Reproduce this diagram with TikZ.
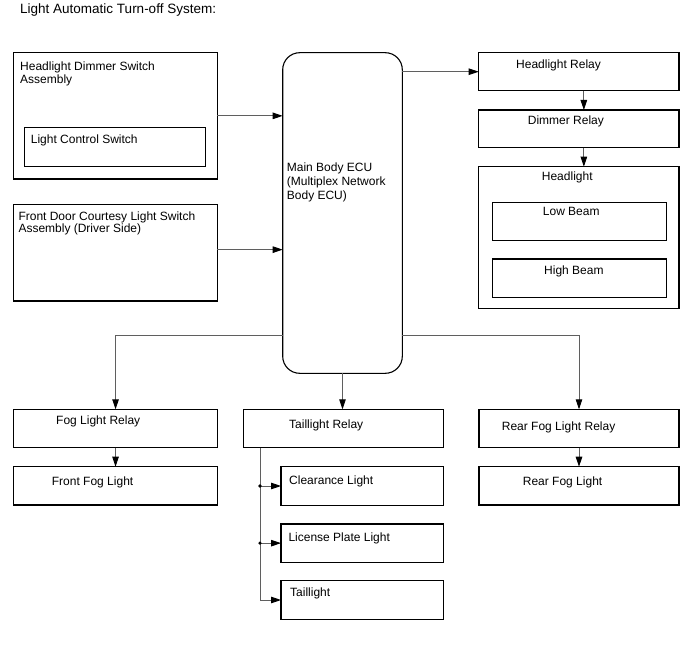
\documentclass[tikz,border=0pt]{standalone}
\usepackage{fontspec}
\setmainfont{Liberation Sans}
\usetikzlibrary{arrows.meta}
\begin{document}
\begin{tikzpicture}[x=1pt,y=-1pt,
  box/.style={draw=black,line width=1.1pt,anchor=north west,inner sep=0pt,outer sep=0pt},
  lbl/.style={anchor=base west,inner sep=0pt,align=left,font=\fontsize{12}{13}\selectfont},
  wire/.style={draw=cwire,line width=0.9pt},
  tip/.style={-{Triangle[length=10pt,width=6.5pt,color=black]}}]
  \definecolor{cwire}{RGB}{95,95,95}
  \useasboundingbox (0,0) rectangle (688,658);
  \node[anchor=base west,inner sep=0pt,font=\fontsize{13.5}{15}\selectfont] (title) at (20,14) {Light Automatic Turn-off System:};
  \foreach \nm/\xx/\yy/\ww/\hh in {hdsw/13.3/52.7/204/126.3,lcsw/24.3/127.7/181.4/39,
      fdsw/13.3/204.3/204/96.7,hrly/478.7/52.7/200.3/38,drly/478.7/110/200.3/37.7,
      hlamp/478.7/166.7/200.3/141.6,lowb/492.7/202.3/174/38.4,highb/492.7/259/174/38.7,
      fogrly/13.3/409.3/204.5/38.4,ffog/13.3/466.7/204.5/38.3,tailrly/243.3/409.3/200/38.4,
      rfogrly/479/409.3/200/38.4,rfog/479/466.7/200/38.3,clear/281/466.7/162.3/38.6,
      plate/281/524/162.3/38.3,tail/281/580.7/162.3/38.6}{%
    \node[box,minimum width=\ww,minimum height=\hh] (\nm) at (\xx,\yy) {};
  }
  \node[box,rounded corners=17pt,minimum width=119.6,minimum height=320.6] (ecu) at (282.7,52.7) {};
  \node[lbl] (hdsw-t) at (20,84) {Headlight Dimmer Switch\\Assembly};
  \node[lbl,font=\fontsize{12}{12}\selectfont] (fdsw-t) at (18.3,232) {Front Door Courtesy Light Switch\\Assembly (Driver Side)};
  \node[lbl,font=\fontsize{12}{14}\selectfont] (ecu-t) at (286.7,199.7) {Main Body ECU\\(Multiplex Network\\Body ECU)};
  \foreach \nm/\xx/\yy/\txt in {lcsw/30.7/143.5/Light Control Switch,hrly/516/68.5/Headlight Relay,
      drly/527.7/125/Dimmer Relay,hlamp/541.7/180/Headlight,lowb/542.7/215/Low Beam,
      highb/544/274/High Beam,fogrly/56/424.5/Fog Light Relay,ffog/51.7/485/Front Fog Light,
      tailrly/289/428.5/Taillight Relay,rfogrly/501.7/430/Rear Fog Light Relay,
      rfog/522.7/485/Rear Fog Light,clear/289/484.5/Clearance Light,
      plate/288.3/541/License Plate Light,tail/290/596.7/Taillight}{%
    \node[lbl] (\nm-t) at (\xx,\yy) {\txt};
  }
  \coordinate (tap) at (0,335.7);
  \coordinate (bus) at (260,0);
  \draw[wire,tip] (hdsw.east) -- (hdsw.east -| ecu.west);
  \draw[wire,tip] ([yshift=3]fdsw.east) -- ([yshift=3]fdsw.east -| ecu.west);
  \draw[wire,tip] (ecu.east |- hrly.west) -- (hrly.west);
  \draw[wire,tip] ([xshift=5]hrly.south) -- ([xshift=5]drly.north);
  \draw[wire,tip] ([xshift=5]drly.south) -- ([xshift=5]hlamp.north);
  \draw[wire,tip] (ecu.west |- tap) -| (fogrly.north);
  \draw[wire,tip] (ecu.east |- tap) -| (rfogrly.north);
  \draw[wire,tip] (ecu.south) -- (ecu.south |- tailrly.north);
  \draw[wire,tip] (fogrly.south) -- (ffog.north);
  \draw[wire,tip] (rfogrly.south) -- (rfog.north);
  \draw[wire,tip] (bus |- tailrly.south) |- (tail.west);
  \foreach \nm in {clear,plate}{%
    \draw[wire,tip] (bus |- \nm.west) -- (\nm.west);
    \fill (bus |- \nm.west) circle[radius=1.8];
  }
\end{tikzpicture}
\end{document}
